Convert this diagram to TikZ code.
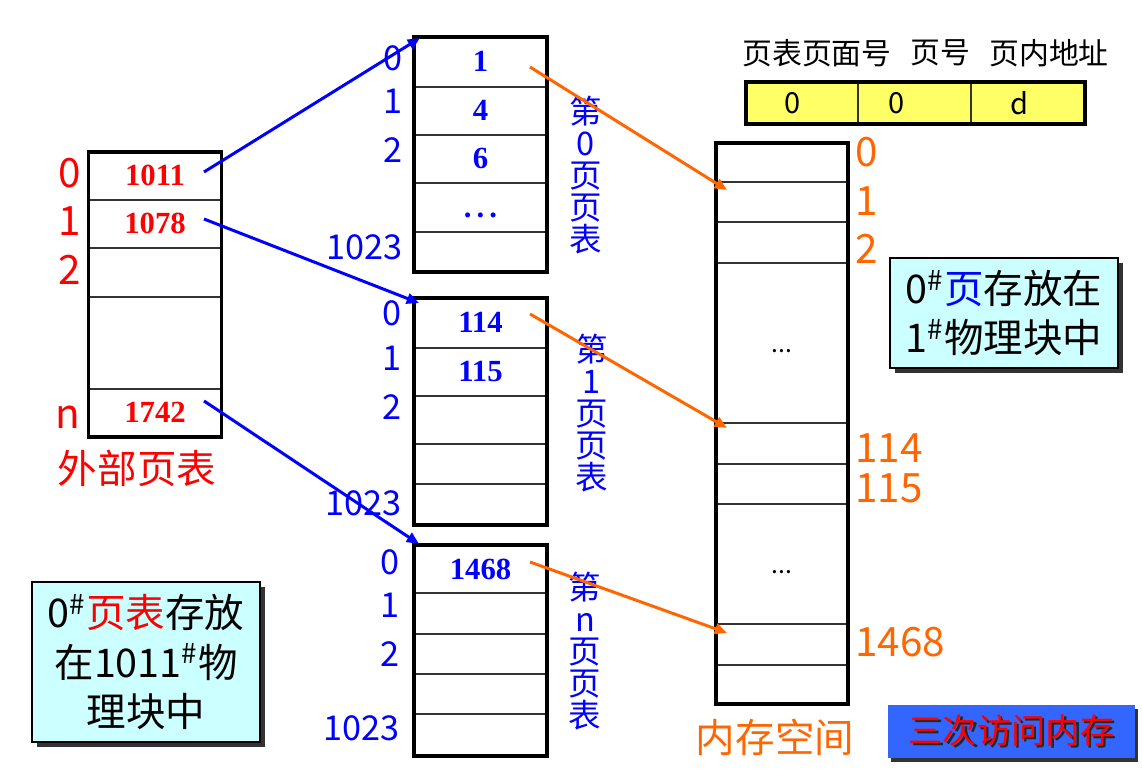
\documentclass[tikz,border=0pt]{standalone}
\usepackage{fontspec}
\setmainfont{Noto Sans CJK SC}
\newfontfamily\cellfont{Liberation Serif}
\usetikzlibrary{positioning,shadows,arrows.meta}

\definecolor{memorange}{RGB}{255,102,0}
\definecolor{boxcyan}{RGB}{204,255,255}
\definecolor{addryellow}{RGB}{255,255,102}
\definecolor{btnblue}{RGB}{51,102,255}

\newcommand{\shadowtxt}[1]{\rlap{\hspace{1.3pt}\raisebox{-1.3pt}{\textcolor{black!85}{#1}}}#1}

\begin{document}
\begin{tikzpicture}[x=0.02cm, y=-0.02cm]
    \useasboundingbox (0,0) rectangle (1142,771);

    \tikzstyle{tabcell} = [rectangle, draw=black!80, line width=0.9pt, inner sep=0pt, outer sep=0pt, minimum width=2.66cm, text height=0.4cm, text depth=0cm, font={\cellfont\bfseries\fontsize{17.5}{17.5}\selectfont}]
    \tikzstyle{mem_cell} = [tabcell, minimum width=2.64cm, font={\fontsize{14}{14}\selectfont}]
    \tikzstyle{tab_border} = [line width=2pt, draw=black]
    \tikzstyle{idx_red} = [anchor=east, inner sep=0pt, text=red, font={\fontsize{23}{23}\selectfont}]
    \tikzstyle{idx_blue} = [anchor=east, inner sep=0pt, text=blue, font={\fontsize{19.5}{19.5}\selectfont}]
    \tikzstyle{idx_orange} = [anchor=west, inner sep=0pt, text=memorange, font={\fontsize{23}{23}\selectfont}]
    \tikzstyle{vert_label} = [align=center, inner sep=0pt, text=blue, font={\fontsize{18.5}{18.2}\selectfont}]
    \tikzstyle{name_label} = [inner sep=0pt, font={\fontsize{22.5}{22.5}\selectfont}]
    \tikzstyle{hdr_text} = [inner sep=0pt, font={\fontsize{17}{17}\selectfont}]
    \tikzstyle{addr_cell} = [rectangle, draw=black!80, line width=0.8pt, fill=addryellow, inner sep=0pt, outer sep=0pt, minimum height=0.84cm]
    \tikzstyle{addr_text} = [inner sep=0pt, font={\fontsize{16.5}{16.5}\selectfont}]
    \tikzstyle{info_box} = [rectangle, draw=black, line width=1pt, fill=boxcyan, align=center, minimum width=4.56cm, drop shadow={shadow xshift=0.1cm, shadow yshift=-0.1cm, fill=black!80, opacity=1}, font={\fontsize{22.5}{28}\selectfont}]
    \tikzstyle{btn_box} = [rectangle, fill=btnblue, minimum width=4.94cm, minimum height=1.06cm, drop shadow={shadow xshift=0.06cm, shadow yshift=-0.08cm, fill=black!80, opacity=1}, text=red, font={\fontsize{19.5}{19.5}\selectfont}]
    \tikzstyle{arrow_blue} = [line width=1.7pt, blue, ->, >={Triangle[length=7pt, width=6pt]}]
    \tikzstyle{arrow_orange} = [line width=1.7pt, memorange, ->, >={Triangle[length=7pt, width=6pt]}]

            % outer page table
            \node (ExtRow0) [tabcell, text=red, anchor=north, minimum height=0.96cm] at (155,152) {1011};
            \node (ExtRow1) [tabcell, text=red, below=0cm of ExtRow0, minimum height=0.96cm] {1078};
            \node (ExtRow2) [tabcell, below=0cm of ExtRow1, minimum height=0.98cm] {};
            \node (ExtRow3) [tabcell, below=0cm of ExtRow2, minimum height=1.84cm] {};
            \node (ExtRow4) [tabcell, text=red, below=0cm of ExtRow3, minimum height=0.96cm] {1742};
            \draw [tab_border] (ExtRow0.north west) rectangle (ExtRow4.south east);

            \node (ExtIdx0) [idx_red] at (81,173) {0};
            \node (ExtIdx1) [idx_red] at (81,221) {1};
            \node (ExtIdx2) [idx_red] at (81,270) {2};
            \node (ExtIdxN) [idx_red] at (81,417) {n};
            \node (ExtName) [name_label, text=red] at (137,468) {外部页表};

            % page table 0
            \node (Pt0Row0) [tabcell, text=blue, anchor=north, minimum height=1.0cm] at (480.5,37) {1};
            \node (Pt0Row1) [tabcell, text=blue, below=0cm of Pt0Row0, minimum height=0.96cm] {4};
            \node (Pt0Row2) [tabcell, text=blue, below=0cm of Pt0Row1, minimum height=0.96cm] {6};
            \node (Pt0Row3) [tabcell, text=blue, below=0cm of Pt0Row2, minimum height=0.98cm] {.\,.\,.};
            \node (Pt0Row4) [tabcell, below=0cm of Pt0Row3, minimum height=0.80cm] {};
            \draw [tab_border] (Pt0Row0.north west) rectangle (Pt0Row4.south east);

            \node (Pt0Idx0) [idx_blue] at (403,58) {0};
            \node (Pt0Idx1) [idx_blue] at (403,101) {1};
            \node (Pt0Idx2) [idx_blue] at (403,150) {2};
            \node (Pt0IdxLast) [idx_blue] at (403,247) {1023};
            \node (Pt0Name) [vert_label] at (586,175) {第\\0\\页\\页\\表};

            % page table 1
            \node (Pt1Row0) [tabcell, text=blue, anchor=north, minimum height=1.0cm] at (480.5,298) {114};
            \node (Pt1Row1) [tabcell, text=blue, below=0cm of Pt1Row0, minimum height=0.96cm] {115};
            \node (Pt1Row2) [tabcell, below=0cm of Pt1Row1, minimum height=0.96cm] {};
            \node (Pt1Row3) [tabcell, below=0cm of Pt1Row2, minimum height=0.80cm] {};
            \node (Pt1Row4) [tabcell, below=0cm of Pt1Row3, minimum height=0.82cm] {};
            \draw [tab_border] (Pt1Row0.north west) rectangle (Pt1Row4.south east);

            \node (Pt1Idx0) [idx_blue] at (402,313) {0};
            \node (Pt1Idx1) [idx_blue] at (402,358) {1};
            \node (Pt1Idx2) [idx_blue] at (402,407) {2};
            \node (Pt1IdxLast) [idx_blue] at (402,503) {1023};
            \node (Pt1Name) [vert_label] at (592,413) {第\\1\\页\\页\\表};

            % page table n
            \node (PtnRow0) [tabcell, text=blue, anchor=north, minimum height=0.96cm] at (480.5,545) {1468};
            \node (PtnRow1) [tabcell, below=0cm of PtnRow0, minimum height=0.82cm] {};
            \node (PtnRow2) [tabcell, below=0cm of PtnRow1, minimum height=0.80cm] {};
            \node (PtnRow3) [tabcell, below=0cm of PtnRow2, minimum height=0.80cm] {};
            \node (PtnRow4) [tabcell, below=0cm of PtnRow3, minimum height=0.84cm] {};
            \draw [tab_border] (PtnRow0.north west) rectangle (PtnRow4.south east);

            \node (PtnIdx0) [idx_blue] at (400,562) {0};
            \node (PtnIdx1) [idx_blue] at (400,605) {1};
            \node (PtnIdx2) [idx_blue] at (400,654) {2};
            \node (PtnIdxLast) [idx_blue] at (400,728) {1023};
            \node (PtnName) [vert_label] at (585,651) {第\\n\\页\\页\\表};

            % memory
            \node (MemRow0) [mem_cell, anchor=north, minimum height=0.78cm] at (782,143) {};
            \node (MemRow1) [mem_cell, below=0cm of MemRow0, minimum height=0.80cm] {};
            \node (MemRow2) [mem_cell, below=0cm of MemRow1, minimum height=0.82cm] {};
            \node (MemRow3) [mem_cell, below=0cm of MemRow2, minimum height=3.20cm] {...};
            \node (MemRow4) [mem_cell, below=0cm of MemRow3, minimum height=0.82cm] {};
            \node (MemRow5) [mem_cell, below=0cm of MemRow4, minimum height=0.80cm] {};
            \node (MemRow6) [mem_cell, below=0cm of MemRow5, minimum height=2.40cm] {...};
            \node (MemRow7) [mem_cell, below=0cm of MemRow6, minimum height=0.82cm] {};
            \node (MemRow8) [mem_cell, below=0cm of MemRow7, minimum height=0.78cm] {};
            \draw [tab_border] (MemRow0.north west) rectangle (MemRow8.south east);

            \node (MemIdx0) [idx_orange] at (855,152) {0};
            \node (MemIdx1) [idx_orange] at (855,201) {1};
            \node (MemIdx2) [idx_orange] at (855,249) {2};
            \node (MemIdx114) [idx_orange] at (855,448) {114};
            \node (MemIdx115) [idx_orange] at (855,488) {115};
            \node (MemIdx1468) [idx_orange] at (855,642) {1468};
            \node (MemName) [name_label, text=memorange] at (775,737) {内存空间};

            % logical address
            \node (HdrTable) [hdr_text] at (817,53) {页表页面号};
            \node (HdrPage) [hdr_text] at (940,53) {页号};
            \node (HdrOffset) [hdr_text] at (1049,53) {页内地址};

            \node (AddrOuter) [addr_cell, anchor=north west, minimum width=2.24cm, label={[addr_text, xshift=-0.18cm]center:0}] at (746,82) {};
            \node (AddrPage) [addr_cell, right=0cm of AddrOuter, minimum width=2.26cm, label={[addr_text, xshift=-0.35cm]center:0}] {};
            \node (AddrOffset) [addr_cell, right=0cm of AddrPage, minimum width=2.28cm, label={[addr_text, xshift=-0.16cm]center:d}] {};
            \draw [line width=1.8pt] (AddrOuter.north west) rectangle (AddrOffset.south east);

            % notes
            \node (InfoPage) [info_box, minimum height=2.2cm] at (1004,313) {0\textsuperscript{\#}{\color{blue}页}存放在\\1\textsuperscript{\#}物理块中};
            \node (InfoTable) [info_box, minimum height=3.2cm] at (146,662) {0\textsuperscript{\#}{\color{red}页表}存放\\在1011\textsuperscript{\#}物\\理块中};
            \node (Button) [btn_box] at (1011.5,731.5) {\shadowtxt{三次访问内存}};

            % ----- ----- ----- ----- ----- ----- ----- ----- ----- ----- ----- ----- ----- -----

            \draw [arrow_blue] ([xshift=-0.35cm, yshift=0.08cm]ExtRow0.east) -- ([xshift=0.12cm, yshift=-0.02cm]Pt0Row0.north west);
            \draw [arrow_blue] ([xshift=-0.35cm, yshift=0.1cm]ExtRow1.east) -- ([xshift=0.1cm, yshift=-0.1cm]Pt1Row0.north west);
            \draw [arrow_blue] ([xshift=-0.35cm, yshift=0.24cm]ExtRow4.east) -- ([xshift=0.1cm, yshift=0.02cm]PtnRow0.north west);
            \draw [arrow_orange] ([xshift=-0.34cm, yshift=-0.1cm]Pt0Row0.east) -- ([xshift=0.22cm, yshift=-0.16cm]MemRow1.north west);
            \draw [arrow_orange] ([xshift=-0.34cm, yshift=0.18cm]Pt1Row0.east) -- ([xshift=0.22cm, yshift=-0.1cm]MemRow4.north west);
            \draw [arrow_orange] ([xshift=-0.34cm, yshift=0.14cm]PtnRow0.east) -- ([xshift=0.22cm, yshift=-0.18cm]MemRow7.north west);
\end{tikzpicture}
\end{document}
